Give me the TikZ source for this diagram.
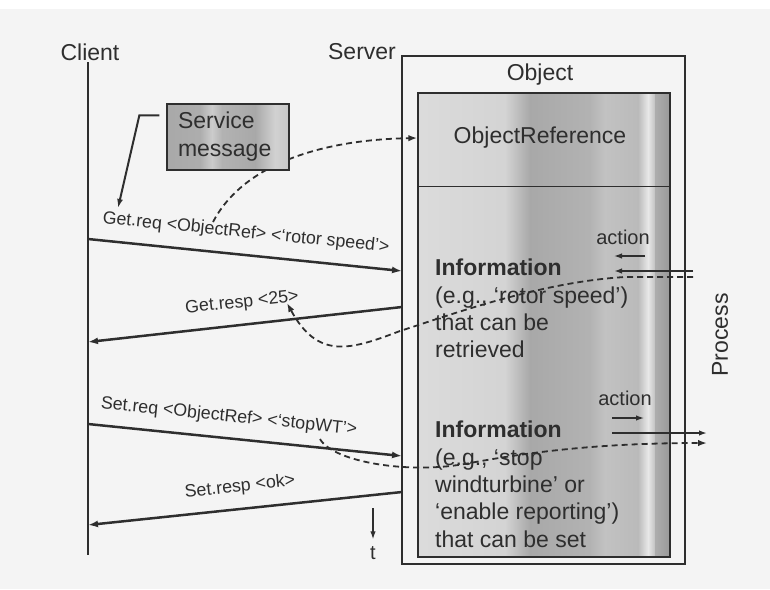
\documentclass[tikz,border=0pt]{standalone}
\usepackage{fontspec}
\setmainfont{Liberation Sans}
\usetikzlibrary{arrows.meta}
\definecolor{ink}{gray}{0.18}
\definecolor{paper}{gray}{0.955}
\begin{document}
\begin{tikzpicture}[x=1pt,y=-1pt,
  every node/.style={inner sep=0pt, text=ink},
  big/.style={font=\fontsize{23}{27.3}\selectfont},
  msgfont/.style={font=\fontsize{17.8}{20}\selectfont},
  actfont/.style={font=\fontsize{20}{24}\selectfont},
  lifeline/.style={draw=ink, line width=1.4pt},
  msg/.style={draw=ink, line width=2.5pt, -{Latex[length=10pt,width=7pt]}},
  flow/.style={draw=ink, line width=1.8pt, dash pattern=on 6pt off 4pt, -{Latex[length=9pt,width=6.5pt]}},
  actarrow/.style={draw=ink, line width=1.3pt, -{Latex[length=8pt,width=5.5pt]}},
  band/.style={draw=none},
]
% page
\fill[paper] (0,0) rectangle (770,589);
\fill[white] (0,0) rectangle (770,9);
\useasboundingbox (0,0) rectangle (770,589);

% ---------- object box with its streaked grey interior ----------
\node[draw=ink, line width=1.3pt, minimum width=283pt, minimum height=508pt] (obj) at (543.5,310) {};
\shade[band, left color=black!14, right color=black!17] (418,93) rectangle (505,557);
\shade[band, left color=black!17, right color=black!34] (505,93) rectangle (530,557);
\shade[band, left color=black!34, right color=black!30] (530,93) rectangle (590,557);
\shade[band, left color=black!30, right color=black!24] (590,93) rectangle (605,557);
\shade[band, left color=black!24, right color=black!27] (605,93) rectangle (638,557);
\shade[band, left color=black!27, right color=black!9] (638,93) rectangle (648,557);
\shade[band, left color=black!9, right color=black!24] (648,93) rectangle (655,557);
\shade[band, left color=black!32, right color=black!40] (655,93) rectangle (670,557);
\node[draw=ink, line width=1.4pt, minimum width=252pt, minimum height=464pt] (inner) at (544,325) {};
\draw[ink, line width=1pt] (418,186) -- (670,186);

\node[big] (objtitle) at (540,75) {Object};
\node[big] (oref) at (540,138) {ObjectReference};
\node[big, align=left, anchor=north west] (info1) at (435,259)
  {\textbf{Information}\\(e.g., ‘rotor speed’)\\that can be\\retrieved};
\node[big, align=left, anchor=north west] (info2) at (435,421)
  {\textbf{Information}\\(e.g., ‘stop\\windturbine’ or\\‘enable reporting’)\\that can be set};

% ---------- lifelines ----------
\node[big] (client) at (90,52) {Client};
\node[big] (server) at (362,52) {Server};
\coordinate (ctop) at (88,62);
\coordinate (cbot) at (88,555);
\draw[lifeline] (ctop) -- (cbot);

% ---------- service messages ----------
\coordinate (gq1) at (88,239);   \coordinate (gq2) at (402,271);
\coordinate (gr1) at (402,307);  \coordinate (gr2) at (88,342);
\coordinate (sq1) at (88,424);   \coordinate (sq2) at (402,456);
\coordinate (sr1) at (402,492);  \coordinate (sr2) at (88,525);
\draw[msg] (gq1) -- (gq2);
\draw[msg] (gr1) -- (gr2);
\draw[msg] (sq1) -- (sq2);
\draw[msg] (sr1) -- (sr2);
\node[msgfont, rotate=-5.8] (gqlab) at (246,233) {Get.req <ObjectRef> <‘rotor speed’>};
\node[msgfont, rotate=6.2] (grlab) at (242,303) {Get.resp <25>};
\node[msgfont, rotate=-5.8] (sqlab) at (229,417) {Set.req <ObjectRef> <‘stopWT’>};
\node[msgfont, rotate=6] (srlab) at (240,487) {Set.resp <ok>};

% time direction
\coordinate (t1) at (373,508);
\node[actfont] (tlab) at (373,553) {t};
\draw[actarrow] (t1) -- ([yshift=7pt]tlab.north);

% ---------- process side ----------
\node[big, rotate=90] (process) at (720,335) {Process};
\node[actfont] (act1) at (623,237) {action};
\node[actfont] (act2) at (625,398) {action};
\coordinate (a1s) at (645,256); \coordinate (a1e) at (614,256);
\coordinate (p1s) at (693,271); \coordinate (p1e) at (614,271);
\coordinate (a2s) at (612,418); \coordinate (a2e) at (644,418);
\coordinate (p2s) at (612,433); \coordinate (p2e) at (707,433);
\draw[actarrow] (a1s) -- (a1e);
\draw[actarrow, line width=1.6pt] (p1s) -- (p1e);
\draw[actarrow] (a2s) -- (a2e);
\draw[actarrow, line width=1.6pt] (p2s) -- (p2e);

% value read from the process back to the response
\coordinate (pu) at (693,277);
\coordinate (r25) at (287,303);
\draw[flow] (pu) -- (625,277) .. controls (540,282) and (450,315) .. (400,331)
  .. controls (350,350) and (318,360) .. (r25);

% command carried into the process
\coordinate (swt) at (320,439);
\coordinate (pd) at (707,443);
\draw[flow] (swt) .. controls (333,462) and (410,475) .. (470,463)
  .. controls (530,452) and (600,443) .. (pd);

% object reference carried by the request
\coordinate (dq) at (213,222);
\draw[flow] (dq) .. controls (240,170) and (310,140) .. (inner.west |- oref);

% ---------- service message box ----------
\shade[band, left color=black!34, right color=black!32] (167,103) rectangle (200,169);
\shade[band, left color=black!32, right color=black!20] (200,103) rectangle (212,169);
\shade[band, left color=black!20, right color=black!30] (212,103) rectangle (222,169);
\shade[band, left color=black!30, right color=black!34] (222,103) rectangle (255,169);
\shade[band, left color=black!34, right color=black!18] (255,103) rectangle (275,169);
\shade[band, left color=black!18, right color=black!22] (275,103) rectangle (289,169);
\node[draw=ink, line width=1.3pt, minimum width=122pt, minimum height=66pt,
      big, text width=100pt, align=left, font=\fontsize{23}{28}\selectfont] (svc) at (228,137) {Service\\message};
\coordinate (b2) at (118,208);
\draw[ink, line width=2pt, -{Latex[length=9pt,width=6pt]}]
  ([shift={(-7pt,-12pt)}]svc.north west) -- ++(-20pt,0pt) -- (b2);
\end{tikzpicture}
\end{document}
